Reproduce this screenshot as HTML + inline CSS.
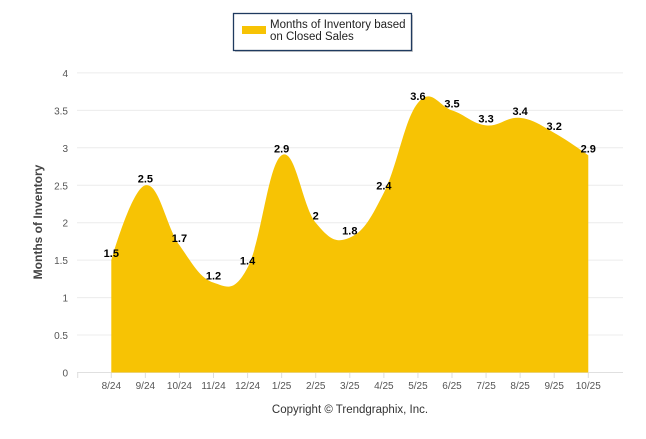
<!DOCTYPE html>
<html><head><meta charset="utf-8"><style>
body{margin:0;background:#fff;width:646px;height:434px;overflow:hidden;font-family:"Liberation Sans",Arial,sans-serif}
</style></head><body>
<svg width="646" height="434" xmlns="http://www.w3.org/2000/svg">
<g>
<rect x="235" y="15" width="178" height="37" fill="#999" opacity="0.5"/>
<rect x="233.5" y="13.5" width="178" height="37" fill="#fff" stroke="#1f3a5f" stroke-width="1.3"/>
<rect x="242" y="26" width="24" height="8" fill="#f7c304"/>
<text x="270" y="28" font-size="11.5" fill="#222">Months of Inventory based</text>
<text x="270" y="40" font-size="11.5" fill="#222">on Closed Sales</text>
</g>
<g id="grid"></g>
<path id="area" fill="#f7c304"/>
<g id="labels"></g>
<g id="xaxis"></g>
<text transform="translate(42,222) rotate(-90)" text-anchor="middle" font-size="12" font-weight="bold" fill="#444">Months of Inventory</text>
<text x="350" y="413" text-anchor="middle" font-size="11.5" fill="#333">Copyright © Trendgraphix, Inc.</text>
</svg>
<script>
const categories=["8/24","9/24","10/24","11/24","12/24","1/25","2/25","3/25","4/25","5/25","6/25","7/25","8/25","9/25","10/25"];
const values=[1.5,2.5,1.7,1.2,1.4,2.9,2,1.8,2.4,3.6,3.5,3.3,3.4,3.2,2.9];
const yTicks=[0,0.5,1,1.5,2,2.5,3,3.5,4];
const NS="http://www.w3.org/2000/svg";
const X=i=>111.3+i*34.07, Y=v=>372.5-v*74.9;
function mk(t,a,p){const e=document.createElementNS(NS,t);for(const k in a)e.setAttribute(k,a[k]);p.appendChild(e);return e;}
const grid=document.getElementById('grid');
yTicks.forEach(v=>{
 const l=mk('line',{x1:77,x2:623,y1:Y(v),y2:Y(v),stroke:v===0?'#e0e0e0':'#ececec','stroke-width':1},grid);
 
 
 const t=mk('text',{x:68,y:Y(v)+4,'text-anchor':'end','font-size':10,fill:'#555'},grid);
 t.textContent=v;
 
 
});
const xa=document.getElementById('xaxis');
mk('line',{x1:77.7,x2:77.7,y1:373,y2:378,stroke:'#ddd'},xa);
categories.forEach((c,i)=>{
 mk('line',{x1:X(i),x2:X(i),y1:373,y2:378,stroke:'#ddd'},xa);
 const t=mk('text',{x:X(i),y:389,'text-anchor':'middle','font-size':10,fill:'#555'},xa);
 t.textContent=c;
 
 
});
const pts=values.map((v,i)=>[X(i),Y(v)]);
const sm=1.5;
let d=`M${pts[0][0]},${Y(0)} L${pts[0][0]},${pts[0][1]}`;
function ctrl(i){
 const p=pts[i],a=pts[i-1],b=pts[i+1];
 if(!a||!b)return [p,p];
 let lx=(sm*p[0]+a[0])/(sm+1),ly=(sm*p[1]+a[1])/(sm+1);
 let rx=(sm*p[0]+b[0])/(sm+1),ry=(sm*p[1]+b[1])/(sm+1);
 const k=(ry-ly)/(rx-lx);const off=(ly+(p[0]-lx)*k)-p[1];ly-=off;ry-=off;
 return [[lx,ly],[rx,ry]];
}
for(let i=1;i<pts.length;i++){
 const c1=ctrl(i-1)[1],c2=ctrl(i)[0];
 d+=` C${c1[0]},${c1[1]} ${c2[0]},${c2[1]} ${pts[i][0]},${pts[i][1]}`;
}
d+=` L${pts[pts.length-1][0]},${Y(0)} Z`;
document.getElementById('area').setAttribute('d',d);
const lab=document.getElementById('labels');
values.forEach((v,i)=>{
 const t=mk('text',{x:X(i),y:Y(v)-3,'text-anchor':'middle','font-size':11,'font-weight':'bold',fill:'#000'},lab);
 t.textContent=v;
 
 
});
</script>
</body></html>
